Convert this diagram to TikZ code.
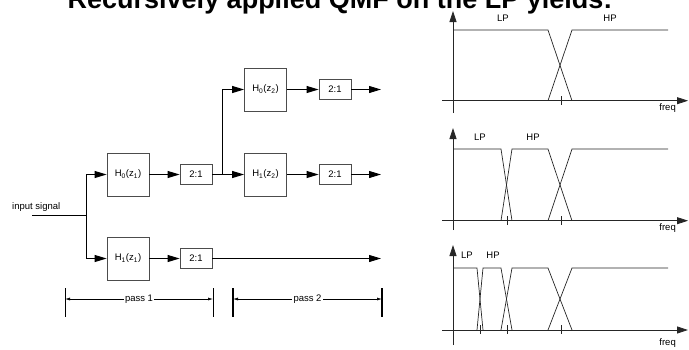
\documentclass[tikz,border=0pt]{standalone}
\usepackage{fontspec}
\setmainfont{Liberation Sans}
\usetikzlibrary{arrows.meta}
\begin{document}
\begin{tikzpicture}[x=1pt,y=-1pt,
  every node/.style={font=\fontsize{9.5}{10}\selectfont, inner sep=0pt},
  sig/.style={line width=0.9pt, -{Triangle[length=12pt,width=7pt]}},
  wire/.style={line width=0.9pt},
  blk/.style={draw=black!70, line width=0.8pt, minimum width=42pt, minimum height=43pt},
  dec/.style={draw=black!70, line width=0.8pt, minimum width=32pt, minimum height=20pt},
  dim/.style={line width=0.6pt, {Latex[length=5pt,width=3pt]}-{Latex[length=5pt,width=3pt]}},
  ax/.style={line width=0.8pt, black!85},
  axarr/.style={line width=0.8pt, black!85, -{Triangle[length=11pt,width=7pt]}},
  crv/.style={line width=0.7pt, black!85},
  lbl/.style={font=\fontsize{9.5}{10}\selectfont}
]
\clip (0,0) rectangle (689,349);
% title (cut off at the top)
\node[font=\bfseries\fontsize{27}{27}\selectfont, anchor=base] (title) at (340,8) {Recursively applied QMF on the LP yields:};

% ---------- filter bank ----------
\node[anchor=west] (insig) at (12,207) {input signal};
\coordinate (in) at (32,215.7);
\coordinate (split) at (86,215.7);
\node[blk] (h0a) at (128,174.5) {H\textsubscript{0}(z\textsubscript{1})};
\node[blk] (h1a) at (128,258.5) {H\textsubscript{1}(z\textsubscript{1})};
\node[dec] (d0a) at (196,174.5) {2:1};
\node[dec] (d1a) at (196,258.5) {2:1};
\coordinate (j) at (222,174.5);
\node[blk] (h0b) at (265.5,89.5) {H\textsubscript{0}(z\textsubscript{2})};
\node[blk] (h1b) at (265.5,174.5) {H\textsubscript{1}(z\textsubscript{2})};
\node[dec] (d0b) at (335,89.5) {2:1};
\node[dec] (d1b) at (335,174.5) {2:1};
\coordinate (o1) at (381,89.5);
\coordinate (o2) at (381,174.5);
\coordinate (o3) at (381,258.5);

\draw[wire] (in) -- (split);
\draw[sig] (split) |- (h0a.west);
\draw[sig] (split) |- (h1a.west);
\draw[sig] (h0a) -- (d0a);
\draw[sig] (h1a) -- (d1a);
\draw[wire] (d0a.east) -- (j);
\draw[sig] (j) -- (h1b.west);
\draw[sig] (j) |- (h0b.west);
\draw[sig] (h0b) -- (d0b);
\draw[sig] (h1b) -- (d1b);
\draw[sig] (d0b) -- (o1);
\draw[sig] (d1b) -- (o2);
\draw[sig] (d1a) -- (o3);

% pass dimensions
\coordinate (p1a) at (65,299);
\coordinate (p1b) at (213,299);
\coordinate (p2a) at (233,299);
\coordinate (p2b) at (382,299);
\draw[line width=0.7pt] (65,288) -- (65,317);
\draw[line width=0.7pt] (213,288) -- (213,317);
\draw[line width=1.4pt] (233,288) -- (233,317);
\draw[line width=1.4pt] (382,288) -- (382,317);
\draw[dim] (p1a) -- node[fill=white, inner xsep=1.5pt] (pass1) {pass 1} (p1b);
\draw[dim] (p2a) -- node[fill=white, inner xsep=1.5pt] (pass2) {pass 2} (p2b);

% ---------- spectra ----------
% plot 1
\draw[axarr] (453,113) -- (453,11);
\draw[axarr] (442,100.7) -- (688,100.7);
\draw[crv] (453,30) -- (548,30) -- (572,100.7);
\draw[crv] (548,100.7) -- (572,30) -- (668,30);
\draw[ax] (561,96) -- (561,105);
\node[lbl] (lp1) at (503,18) {LP};
\node[lbl] (hp1) at (610,18) {HP};
\node[lbl, anchor=east] (f1) at (676,108) {freq};

% plot 2
\draw[axarr] (453,230) -- (453,128);
\draw[axarr] (442,220.7) -- (688,220.7);
\draw[crv] (453,149) -- (501,149) -- (512,220.7);
\draw[crv] (501,220.7) -- (512,149) -- (548,149) -- (572,220.7);
\draw[crv] (548,220.7) -- (572,149) -- (668,149);
\draw[ax] (507,216) -- (507,225);
\draw[ax] (561,216) -- (561,225);
\node[lbl] (lp2) at (480,137) {LP};
\node[lbl] (hp2) at (533,137) {HP};
\node[lbl, anchor=east] (f2) at (676,228) {freq};

% plot 3
\draw[axarr] (453,345) -- (453,245);
\draw[axarr] (442,330) -- (688,330);
\draw[crv] (453,268) -- (477,268) -- (483,330);
\draw[crv] (477,330) -- (483,268) -- (501,268) -- (512,330);
\draw[crv] (501,330) -- (512,268) -- (548,268) -- (572,330);
\draw[crv] (548,330) -- (572,268) -- (668,268);
\draw[ax] (480,325) -- (480,334);
\draw[ax] (507,325) -- (507,334);
\draw[ax] (561,325) -- (561,334);
\node[lbl] (lp3) at (467,255) {LP};
\node[lbl] (hp3) at (493,255) {HP};
\node[lbl, anchor=east] (f3) at (676,343) {freq};
\end{tikzpicture}
\end{document}
